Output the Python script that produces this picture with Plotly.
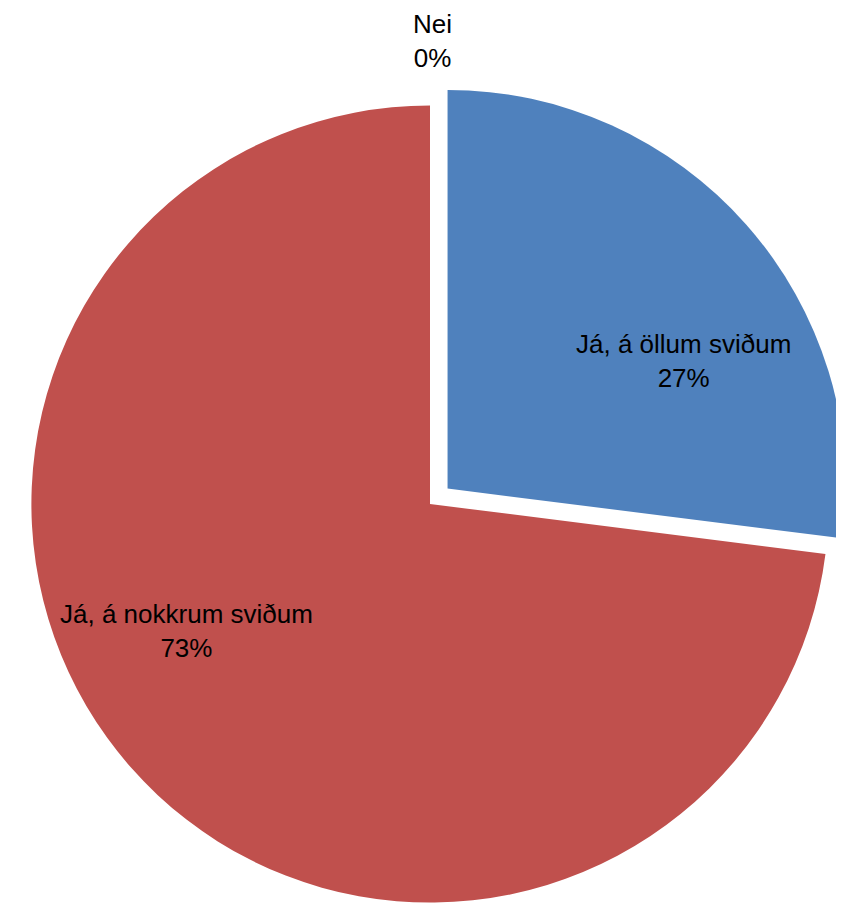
import plotly.graph_objects as go

labels = ["Já, á öllum sviðum", "Já, á nokkrum sviðum", "Nei"]
values = [27, 73, 0]
colors = ["#4F81BD", "#C0504D", "#9BBB59"]
pulls = [0.0587, 0, 0]

W, H = 870, 940

fig = go.Figure(
    go.Pie(
        labels=labels,
        values=values,
        sort=False,
        direction="clockwise",
        rotation=0,
        pull=pulls,
        marker=dict(colors=colors, line=dict(width=0)),
        textinfo="none",
        hoverinfo="label+percent",
        showlegend=False,
        domain=dict(x=[0, 844 / W], y=[22 / H, 866 / H]),
    )
)

total = sum(values)
pct = [round(100 * v / total) for v in values]
label_pos = [(675, 353), (178, 623), (424, 33)]
for lab, p, (px, py) in zip(labels, pct, label_pos):
    fig.add_annotation(
        x=px / W, y=1 - py / H, xref="paper", yref="paper",
        text=f"{lab}<br>{p}%", showarrow=False,
        font=dict(family="Liberation Sans, Arial", size=26, color="#000000"),
        align="center", xanchor="center", yanchor="middle",
    )

fig.update_layout(
    width=W, height=H,
    margin=dict(l=0, r=0, t=0, b=0),
    paper_bgcolor="#FFFFFF",
    plot_bgcolor="#FFFFFF",
)

fig.write_html("out.html")
